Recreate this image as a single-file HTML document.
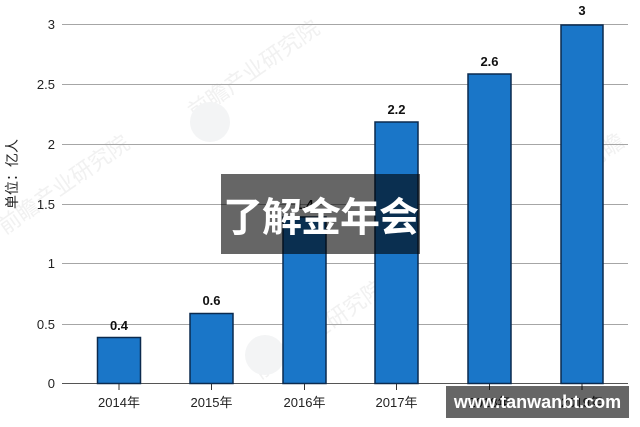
<!DOCTYPE html>
<html><head><meta charset="utf-8"><style>
html,body{margin:0;padding:0;background:#fff;}
body{width:640px;height:427px;overflow:hidden;position:relative;font-family:"Liberation Sans","Noto Sans CJK SC",sans-serif;}
svg{position:absolute;left:0;top:0;}
.ov1{position:absolute;left:221px;top:174px;width:199px;height:80px;background:rgba(0,0,0,0.6);color:#fff;font-weight:bold;font-size:40px;line-height:80px;text-align:center;font-family:"Noto Sans CJK SC","WenQuanYi Zen Hei",sans-serif;letter-spacing:-1px;}
.ov2{position:absolute;left:446px;top:386px;width:183px;height:32px;background:rgba(0,0,0,0.6);color:#fff;font-weight:bold;font-size:18px;line-height:32px;text-align:center;font-family:"Liberation Sans",sans-serif;}
</style></head><body>
<svg width="640" height="427" viewBox="0 0 640 427" xmlns="http://www.w3.org/2000/svg">
<g font-family="Noto Sans CJK SC, sans-serif" fill="#f1f1f1" font-size="22">
<text transform="translate(195,120) rotate(-35)">前瞻产业研究院</text>
<text transform="translate(5,235) rotate(-35)">前瞻产业研究院</text>
<text transform="translate(260,380) rotate(-35)">前瞻产业研究院</text>
<text transform="translate(590,170) rotate(-35)">前瞻</text>
</g>
<circle cx="210" cy="122" r="20" fill="#f3f4f5"/>
<circle cx="265" cy="355" r="20" fill="#f3f4f5"/>
<g stroke="#a6a6a6" stroke-width="1">
<line x1="62" y1="24.5" x2="628" y2="24.5"/>
<line x1="62" y1="84.5" x2="628" y2="84.5"/>
<line x1="62" y1="144.5" x2="628" y2="144.5"/>
<line x1="62" y1="204.5" x2="628" y2="204.5"/>
<line x1="62" y1="263.5" x2="628" y2="263.5"/>
<line x1="62" y1="324.5" x2="628" y2="324.5"/>
</g>
<line x1="62" y1="383.5" x2="628" y2="383.5" stroke="#555" stroke-width="1"/>
<g fill="#1a76c8" stroke="#0b2a4e" stroke-width="1.5">
<rect x="97.5" y="337.5" width="43" height="46"/>
<rect x="190" y="313.5" width="43" height="70"/>
<rect x="283" y="217" width="43" height="166.5"/>
<rect x="375" y="122" width="43" height="261.5"/>
<rect x="468" y="74" width="43" height="309.5"/>
<rect x="561" y="25" width="42" height="358.5"/>
</g>
<g stroke="#333" stroke-width="1">
<line x1="119" y1="384" x2="119" y2="390"/>
<line x1="211.5" y1="384" x2="211.5" y2="390"/>
<line x1="304.5" y1="384" x2="304.5" y2="390"/>
<line x1="396.5" y1="384" x2="396.5" y2="390"/>
<line x1="489.5" y1="384" x2="489.5" y2="390"/>
<line x1="582" y1="384" x2="582" y2="390"/>
</g>
<g font-family="Liberation Sans, sans-serif" font-size="13" fill="#222" text-anchor="end">
<text x="55" y="29">3</text>
<text x="55" y="89">2.5</text>
<text x="55" y="149">2</text>
<text x="55" y="209">1.5</text>
<text x="55" y="268">1</text>
<text x="55" y="329">0.5</text>
<text x="55" y="388">0</text>
</g>
<g font-family="Liberation Sans, sans-serif" font-size="13" font-weight="bold" fill="#111" text-anchor="middle">
<text x="119" y="330">0.4</text>
<text x="211.5" y="305">0.6</text>
<text x="304.5" y="209">1.4</text>
<text x="396.5" y="114">2.2</text>
<text x="489.5" y="66">2.6</text>
<text x="582" y="15">3</text>
</g>
<g font-family="Liberation Sans, Noto Sans CJK SC, sans-serif" font-size="13" fill="#222" text-anchor="middle">
<text x="119" y="407">2014年</text>
<text x="211.5" y="407">2015年</text>
<text x="304.5" y="407">2016年</text>
<text x="396.5" y="407">2017年</text>
<text x="489.5" y="407">2018年</text>
<text x="582" y="407">2019年</text>
</g>
<text transform="translate(17,174) rotate(-90)" font-family="Liberation Sans, Noto Sans CJK SC, sans-serif" font-size="14" fill="#222" text-anchor="middle">单位：亿人</text>
</svg>
<div class="ov1">了解金年会</div>
<div class="ov2">www.tanwanbt.com</div>
</body></html>
